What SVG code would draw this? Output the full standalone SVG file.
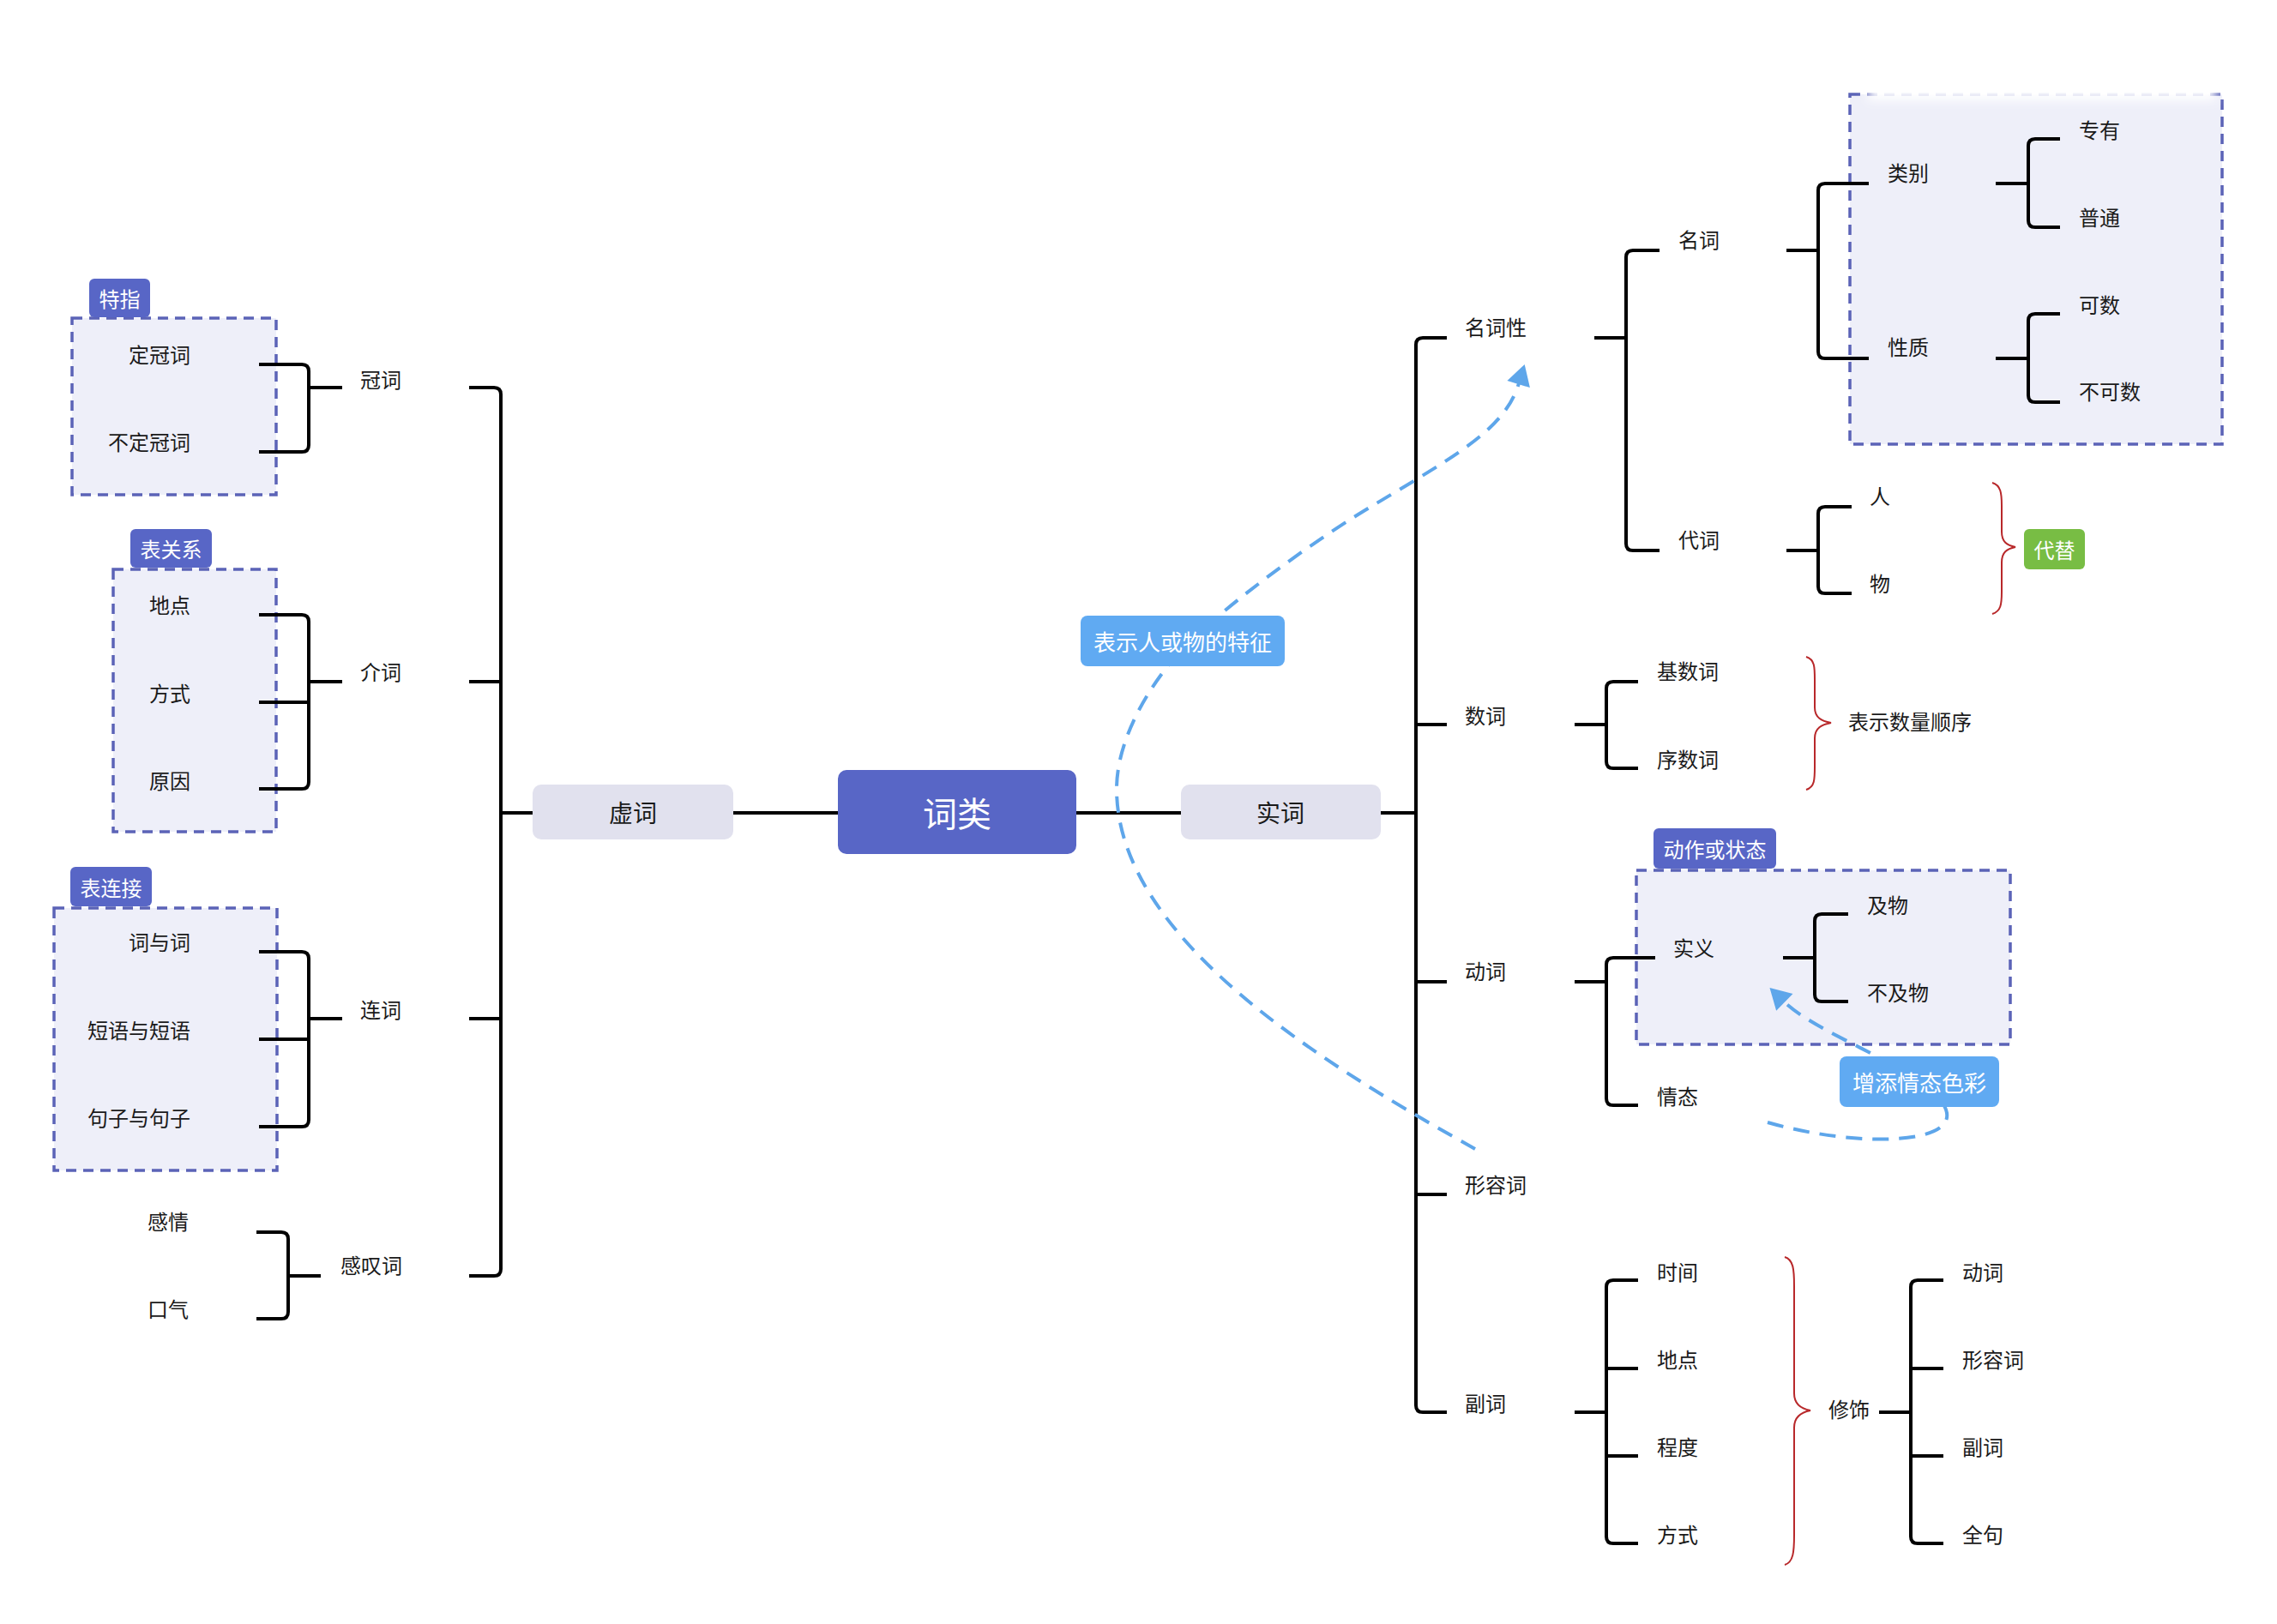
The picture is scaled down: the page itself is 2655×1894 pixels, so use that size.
<svg xmlns="http://www.w3.org/2000/svg" width="2655" height="1894" viewBox="0 0 2655 1894">
<defs>
<style>
.t{font-family:"Noto Sans CJK SC","Noto Sans",sans-serif;font-size:24px;fill:#1a1a1a;dominant-baseline:central}
.e{text-anchor:end}
.m{text-anchor:middle}
.w{fill:#ffffff;text-anchor:middle}
.ln{fill:none;stroke:#000;stroke-width:4;stroke-linejoin:round}
.box{fill:#eeeff9;stroke:#5b63b7;stroke-width:3.5;stroke-dasharray:12 8}
.tag{fill:#5866c6}
.blue{fill:#60aaf2}
.rel{fill:none;stroke:#5ea6ea;stroke-width:4;stroke-dasharray:19 12}
.brace{fill:none;stroke:#b8282a;stroke-width:2}
</style>
<marker id="arr" markerUnits="userSpaceOnUse" markerWidth="30" markerHeight="30" viewBox="0 -13 22 26" refX="1" refY="0" orient="auto">
<path d="M0,-12 L21,0 L0,12 Z" fill="#5ea6ea"/>
</marker>
<filter id="blur" x="-20%" y="-100%" width="140%" height="300%"><feGaussianBlur stdDeviation="6"/></filter>
</defs>
<rect width="2655" height="1894" fill="#ffffff"/>

<!-- boundary boxes -->
<g id="box-tezhi"><rect class="box" x="84" y="371" width="238" height="206"/></g>
<g id="box-biaoguanxi"><rect class="box" x="132" y="664" width="190" height="306"/></g>
<g id="box-biaolianjie"><rect class="box" x="63" y="1059" width="260" height="306"/></g>
<g id="box-mingci"><rect class="box" x="2157" y="110" width="434" height="408"/>
<rect x="2178" y="45" width="406" height="72" fill="#ffffff" filter="url(#blur)"/></g>
<g id="box-dongzuo"><rect class="box" x="1908" y="1015" width="436" height="203"/></g>

<g id="connectors">
<path class="ln" d="M547,452 H576 Q584,452 584,460 V1480 Q584,1488 576,1488 H547 M547,795 H584 M547,1188 H584 M584,948 H621"/>
<path class="ln" d="M855,948 H977 M1255,948 H1377 M1610,948 H1651"/>
<path class="ln" d="M399,452 H360 M302,425 H352 Q360,425 360,433 V519 Q360,527 352,527 H302"/>
<path class="ln" d="M399,795 H360 M302,717 H352 Q360,717 360,725 V912 Q360,920 352,920 H302 M302,819 H360"/>
<path class="ln" d="M399,1188 H360 M302,1110 H352 Q360,1110 360,1118 V1306 Q360,1314 352,1314 H302 M302,1212 H360"/>
<path class="ln" d="M374,1488 H336 M299,1437 H328 Q336,1437 336,1445 V1530 Q336,1538 328,1538 H299"/>
<path class="ln" d="M1687,394 H1659 Q1651,394 1651,402 V1639 Q1651,1647 1659,1647 H1687 M1651,845 H1687 M1651,1145 H1687 M1651,1393 H1687"/>
<path class="ln" d="M1859,394 H1896 M1935,292 H1904 Q1896,292 1896,300 V634 Q1896,642 1904,642 H1935"/>
<path class="ln" d="M2083,292 H2120 M2179,214 H2128 Q2120,214 2120,222 V410 Q2120,418 2128,418 H2179"/>
<path class="ln" d="M2327,214 H2365 M2402,162 H2373 Q2365,162 2365,170 V257 Q2365,265 2373,265 H2402"/>
<path class="ln" d="M2327,418 H2365 M2402,366 H2373 Q2365,366 2365,374 V461 Q2365,469 2373,469 H2402"/>
<path class="ln" d="M2083,642 H2120 M2159,591 H2128 Q2120,591 2120,599 V684 Q2120,692 2128,692 H2159"/>
<path class="ln" d="M1836,845 H1873 M1910,795 H1881 Q1873,795 1873,803 V888 Q1873,896 1881,896 H1910"/>
<path class="ln" d="M1836,1145 H1873 M1930,1117 H1881 Q1873,1117 1873,1125 V1281 Q1873,1289 1881,1289 H1910"/>
<path class="ln" d="M2079,1117 H2116 M2155,1066 H2124 Q2116,1066 2116,1074 V1160 Q2116,1168 2124,1168 H2155"/>
<path class="ln" d="M1836,1647 H1873 M1910,1493 H1881 Q1873,1493 1873,1501 V1792 Q1873,1800 1881,1800 H1910 M1873,1596 H1910 M1873,1698 H1910"/>
<path class="ln" d="M2191,1647 H2228 M2266,1493 H2236 Q2228,1493 2228,1501 V1792 Q2228,1800 2236,1800 H2266 M2228,1596 H2266 M2228,1698 H2266"/>
<path class="brace" d="M2323,563 C2333,566 2334,575 2334,590 V620 C2334,632 2340,636 2350,638 C2340,640 2334,644 2334,656 V690 C2334,705 2333,713 2323,716"/>
<path class="brace" d="M2106,766 C2116,769 2116,778 2116,793 V825 C2116,837 2124,841 2135,843 C2124,845 2116,849 2116,861 V894 C2116,909 2116,918 2106,921"/>
<path class="brace" d="M2081,1466 C2091,1469 2092,1480 2092,1500 V1625 C2092,1638 2100,1643 2111,1645 C2100,1647 2092,1652 2092,1665 V1790 C2092,1810 2091,1822 2081,1825"/>
<path class="rel" marker-end="url(#arr)" d="M1720,1340 C1560,1250 1302,1100 1302,920 C1302,860 1343,792 1388,747 C1450,690 1538,627 1600,590 C1700,530 1755,500 1771,447"/>
<path class="rel" marker-end="url(#arr)" d="M2061,1309 C2170,1340 2295,1335 2266,1288 C2240,1245 2121,1208 2080,1168"/>
</g>

<g id="node-cilei"><rect x="977" y="898" width="278" height="98" rx="10" fill="#5866c6"/><text class="t w" x="1116" y="947" style="font-size:40px">词类</text></g>
<g id="node-xuci"><rect x="621" y="915" width="234" height="64" rx="10" fill="#e1e1ee"/><text class="t m" x="738" y="947" style="font-size:28px">虚词</text></g>
<g id="node-shici"><rect x="1377" y="915" width="233" height="64" rx="10" fill="#e1e1ee"/><text class="t m" x="1493" y="947" style="font-size:28px">实词</text></g>

<g id="node-guanci"><text class="t" x="420" y="441">冠词</text></g>
<g id="node-dingguanci"><text class="t e" x="222" y="412">定冠词</text></g>
<g id="node-budingguanci"><text class="t e" x="222" y="514">不定冠词</text></g>
<g id="tag-tezhi"><rect class="tag" x="104" y="325" width="71" height="45" rx="6"/><text class="t w" x="139.5" y="347.5">特指</text></g>

<g id="node-jieci"><text class="t" x="420" y="782">介词</text></g>
<g id="node-didian1"><text class="t e" x="222" y="704">地点</text></g>
<g id="node-fangshi1"><text class="t e" x="222" y="807">方式</text></g>
<g id="node-yuanyin"><text class="t e" x="222" y="909">原因</text></g>
<g id="tag-biaoguanxi"><rect class="tag" x="152" y="617" width="95" height="45" rx="6"/><text class="t w" x="199.5" y="639.5">表关系</text></g>

<g id="node-lianci"><text class="t" x="420" y="1176">连词</text></g>
<g id="node-ciyuci"><text class="t e" x="222" y="1097">词与词</text></g>
<g id="node-duanyu"><text class="t e" x="222" y="1200">短语与短语</text></g>
<g id="node-juzi"><text class="t e" x="222" y="1302">句子与句子</text></g>
<g id="tag-biaolianjie"><rect class="tag" x="82" y="1011" width="95" height="46" rx="6"/><text class="t w" x="129.5" y="1034">表连接</text></g>

<g id="node-gantanci"><text class="t" x="397" y="1474">感叹词</text></g>
<g id="node-ganqing"><text class="t e" x="220" y="1423">感情</text></g>
<g id="node-kouqi"><text class="t e" x="220" y="1525">口气</text></g>

<g id="node-mingcixing"><text class="t" x="1708" y="380">名词性</text></g>
<g id="node-mingci"><text class="t" x="1957" y="278">名词</text></g>
<g id="node-daici"><text class="t" x="1957" y="628">代词</text></g>
<g id="node-leibie"><text class="t" x="2201" y="200">类别</text></g>
<g id="node-xingzhi"><text class="t" x="2201" y="403">性质</text></g>
<g id="node-zhuanyou"><text class="t" x="2424" y="150">专有</text></g>
<g id="node-putong"><text class="t" x="2424" y="252">普通</text></g>
<g id="node-keshu"><text class="t" x="2424" y="354">可数</text></g>
<g id="node-bukeshu"><text class="t" x="2424" y="455">不可数</text></g>
<g id="node-ren"><text class="t" x="2180" y="577">人</text></g>
<g id="node-wu"><text class="t" x="2180" y="679">物</text></g>
<g id="tag-daiti"><rect x="2360" y="617" width="71" height="47" rx="6" fill="#78bd44"/><text class="t w" x="2395.5" y="640.5">代替</text></g>

<g id="node-shuci"><text class="t" x="1708" y="833">数词</text></g>
<g id="node-jishuci"><text class="t" x="1932" y="781">基数词</text></g>
<g id="node-xushuci"><text class="t" x="1932" y="884">序数词</text></g>
<g id="node-shuliang"><text class="t" x="2155" y="840">表示数量顺序</text></g>

<g id="node-dongci"><text class="t" x="1708" y="1131">动词</text></g>
<g id="node-shiyi"><text class="t" x="1951" y="1104">实义</text></g>
<g id="node-qingtai"><text class="t" x="1932" y="1277">情态</text></g>
<g id="node-jiwu"><text class="t" x="2177" y="1054">及物</text></g>
<g id="node-bujiwu"><text class="t" x="2177" y="1156">不及物</text></g>
<g id="tag-dongzuo"><rect class="tag" x="1928" y="966" width="143" height="47" rx="6"/><text class="t w" x="1999.5" y="989.5">动作或状态</text></g>

<g id="node-xingrongci"><text class="t" x="1708" y="1380">形容词</text></g>
<g id="node-fuci"><text class="t" x="1708" y="1635">副词</text></g>
<g id="node-shijian"><text class="t" x="1932" y="1482">时间</text></g>
<g id="node-didian2"><text class="t" x="1932" y="1584">地点</text></g>
<g id="node-chengdu"><text class="t" x="1932" y="1686">程度</text></g>
<g id="node-fangshi2"><text class="t" x="1932" y="1788">方式</text></g>
<g id="node-xiushi"><text class="t" x="2132" y="1642">修饰</text></g>
<g id="node-m-dongci"><text class="t" x="2288" y="1482">动词</text></g>
<g id="node-m-xingrongci"><text class="t" x="2288" y="1584">形容词</text></g>
<g id="node-m-fuci"><text class="t" x="2288" y="1686">副词</text></g>
<g id="node-m-quanju"><text class="t" x="2288" y="1788">全句</text></g>

<g id="label-tezheng"><rect class="blue" x="1260" y="718" width="238" height="59" rx="8"/><text class="t w" x="1379" y="747.5" style="font-size:26px">表示人或物的特征</text></g>
<g id="label-qingtai"><rect class="blue" x="2145" y="1232" width="186" height="59" rx="8"/><text class="t w" x="2238" y="1261.5" style="font-size:26px">增添情态色彩</text></g>
</svg>
